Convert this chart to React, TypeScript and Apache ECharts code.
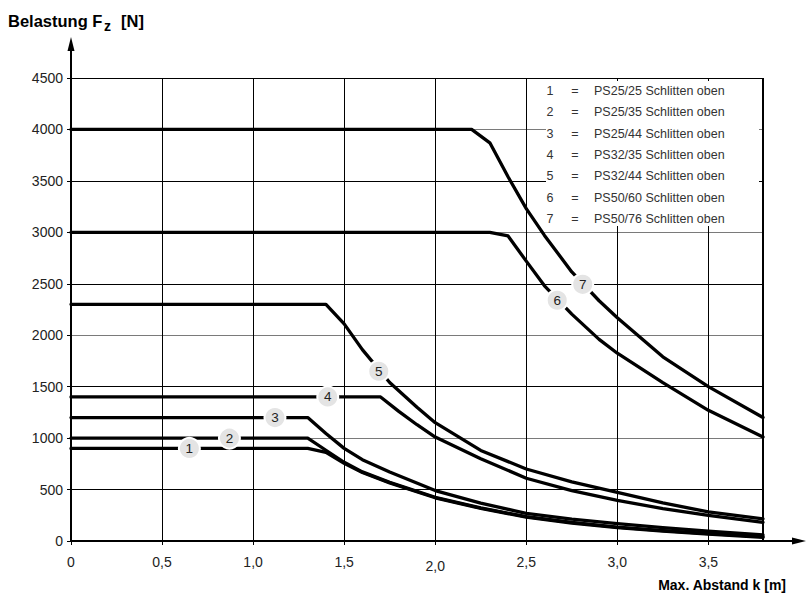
import React, { useEffect, useRef } from "react";
import * as echarts from "echarts";

// ---- data ----
const xTickValues = [0, 0.5, 1, 1.5, 2, 2.5, 3, 3.5];
const yTickInterval = 500;
const yMax = 4500;
const xMax = 3.8;

const curve1 = [[0, 900], [1.3, 900], [1.4, 862], [1.5, 755], [1.6, 665], [1.75, 565], [2.0, 420], [2.25, 318], [2.5, 232], [2.75, 175], [3.0, 130], [3.25, 97], [3.5, 68], [3.8, 36]];
const curve2 = [[0, 1000], [1.3, 1000], [1.4, 882], [1.5, 765], [1.6, 672], [1.75, 570], [2.0, 425], [2.25, 322], [2.5, 236], [2.75, 180], [3.0, 135], [3.25, 100], [3.5, 72], [3.8, 42]];
const curve3 = [[0, 1200], [1.3, 1200], [1.4, 1045], [1.5, 900], [1.6, 790], [1.75, 670], [2.0, 490], [2.25, 368], [2.5, 268], [2.75, 212], [3.0, 168], [3.25, 130], [3.5, 95], [3.8, 60]];
const curve4 = [[0, 1400], [1.7, 1400], [1.8, 1260], [1.9, 1130], [2.0, 1010], [2.25, 800], [2.5, 610], [2.75, 490], [3.0, 395], [3.25, 315], [3.5, 250], [3.8, 182]];
const curve5 = [[0, 2300], [1.4, 2300], [1.5, 2110], [1.6, 1860], [1.75, 1540], [1.9, 1300], [2.0, 1150], [2.25, 880], [2.5, 700], [2.75, 575], [3.0, 472], [3.25, 370], [3.5, 283], [3.8, 215]];
const curve6 = [[0, 3000], [2.3, 3000], [2.4, 2965], [2.5, 2720], [2.6, 2480], [2.75, 2205], [2.9, 1960], [3.0, 1825], [3.25, 1540], [3.5, 1270], [3.8, 1010]];
const curve7 = [[0, 4000], [2.2, 4000], [2.3, 3870], [2.4, 3540], [2.5, 3230], [2.6, 2970], [2.75, 2615], [2.9, 2335], [3.0, 2170], [3.25, 1790], [3.5, 1500], [3.8, 1200]];

const curves = [curve1, curve2, curve3, curve4, curve5, curve6, curve7];
const curveIds = ["1", "2", "3", "4", "5", "6", "7"];
const labelPositions = [[0.65, 900], [0.87, 1000], [1.12, 1200], [1.41, 1400], [1.69, 1650], [2.67, 2340], [2.81, 2495]];
const legendNames = [
  "PS25/25 Schlitten oben",
  "PS25/35 Schlitten oben",
  "PS25/44 Schlitten oben",
  "PS32/35 Schlitten oben",
  "PS32/44 Schlitten oben",
  "PS50/60 Schlitten oben",
  "PS50/76 Schlitten oben",
];
const yTitle = ["Belastung F", "z", "[N]"];
const xTitle = "Max. Abstand k [m]";

const FONT = '"Liberation Sans", Arial, Helvetica, sans-serif';

export default function App() {
  const ref = useRef<HTMLDivElement>(null);

  useEffect(() => {
    if (!ref.current) return;
    const chart = echarts.init(ref.current, undefined, { renderer: "svg" });
    const W = 807, H = 595;
    const gridLeft = 71, gridTop = 78, gridRight = 44, gridBottom = 54;
    const x0 = gridLeft;
    const y0 = H - gridBottom;
    const xEnd = W - gridRight;

    const legendGraphics: any[] = [];
    legendNames.forEach((name, i) => {
      const y = 91 + i * 21.33;
      legendGraphics.push(
        { type: "text", z: 4, x: 550, y, style: { text: curveIds[i], font: `12.5px ${FONT}`, fill: "#333", align: "center", verticalAlign: "middle" } },
        { type: "text", z: 4, x: 575, y, style: { text: "=", font: `12.5px ${FONT}`, fill: "#333", align: "center", verticalAlign: "middle" } },
        { type: "text", z: 4, x: 594, y, style: { text: name, font: `12.5px ${FONT}`, fill: "#333", align: "left", verticalAlign: "middle" } }
      );
    });

    const lineSeries = curves.map((c, i) => ({
      type: "line",
      name: curveIds[i],
      data: c,
      showSymbol: false,
      symbol: "none",
      smooth: false,
      z: 3,
      lineStyle: { color: "#000", width: 3.3, cap: "round", join: "round" },
      ...(i === 0
        ? {
            markLine: {
              silent: true,
              symbol: ["none", "none"],
              label: { show: false },
              lineStyle: { color: "#000", width: 2, type: "solid" },
              data: [{ xAxis: xMax }],
            },
          }
        : {}),
    }));

    const option: any = {
      animation: false,
      backgroundColor: "#fff",
      grid: { left: gridLeft, right: gridRight, top: gridTop, bottom: gridBottom, containLabel: false },
      xAxis: {
        type: "value",
        min: 0,
        max: xMax,
        interval: 0.5,
        axisLine: { show: true, lineStyle: { color: "#000", width: 2 } },
        axisTick: { show: true, length: 4, lineStyle: { color: "#000", width: 1 } },
        axisLabel: {
          show: true,
          margin: 14,
          showMaxLabel: false,
          color: "#222",
          fontSize: 14,
          fontFamily: FONT,
          formatter: (v: number) => {
            if (!xTickValues.some((t) => Math.abs(t - v) < 1e-6)) return "";
            if (v === 0) return "0";
            if (Math.abs(v - 2) < 1e-6) return "{low|2,0}";
            return v.toFixed(1).replace(".", ",");
          },
          rich: { low: { fontSize: 14, fontFamily: FONT, color: "#222", padding: [4, 0, 0, 0] } },
        },
        splitLine: { show: true, lineStyle: { color: "#000", width: 1 } },
      },
      yAxis: {
        type: "value",
        min: 0,
        max: yMax,
        interval: yTickInterval,
        axisLine: { show: true, lineStyle: { color: "#000", width: 2 } },
        axisTick: { show: true, length: 4, lineStyle: { color: "#000", width: 1 } },
        axisLabel: { margin: 8, color: "#222", fontSize: 14, fontFamily: FONT, formatter: (v: number) => String(v) },
        splitLine: { show: true, lineStyle: { color: ["#7a7a7a", "#000"], width: 1 } },
      },
      series: [
        ...lineSeries,
        {
          type: "scatter",
          data: labelPositions,
          symbol: "circle",
          symbolSize: 21,
          z: 6,
          itemStyle: { color: "#e4e4e4", borderColor: "#fff", borderWidth: 2, opacity: 1 },
          label: {
            show: true,
            position: "inside",
            color: "#222",
            fontSize: 13.5,
            fontFamily: FONT,
            formatter: (p: any) => curveIds[p.dataIndex],
          },
        },
      ],
      graphic: [
        // legend background covering grid lines
        { type: "rect", z: 1, shape: { x: 546, y: 81, width: 213, height: 145 }, style: { fill: "#fff" } },
        ...legendGraphics,
        // y-axis arrow
        { type: "line", z: 4, shape: { x1: x0, y1: gridTop, x2: x0, y2: 46 }, style: { stroke: "#000", lineWidth: 2 } },
        { type: "polygon", z: 4, shape: { points: [[x0, 37], [x0 - 3.5, 51], [x0 + 3.5, 51]] }, style: { fill: "#000" } },
        // x-axis arrow
        { type: "line", z: 4, shape: { x1: xEnd, y1: y0, x2: 796, y2: y0 }, style: { stroke: "#000", lineWidth: 2 } },
        { type: "polygon", z: 4, shape: { points: [[806, y0], [792, y0 - 3.5], [792, y0 + 3.5]] }, style: { fill: "#000" } },
        // y title
        { type: "text", z: 4, x: 8, y: 21, style: { text: yTitle[0], font: `bold 16.5px ${FONT}`, fill: "#000", align: "left", verticalAlign: "middle" } },
        { type: "text", z: 4, x: 104, y: 26, style: { text: yTitle[1], font: `bold 14px ${FONT}`, fill: "#000", align: "left", verticalAlign: "middle" } },
        { type: "text", z: 4, x: 121, y: 21, style: { text: yTitle[2], font: `bold 16.5px ${FONT}`, fill: "#000", align: "left", verticalAlign: "middle" } },
        // x title
        { type: "text", z: 4, x: 786, y: 585, style: { text: xTitle, font: `bold 14px ${FONT}`, fill: "#000", align: "right", verticalAlign: "middle" } },
      ],
    };

    chart.setOption(option);
    return () => chart.dispose();
  }, []);

  return (
    <div
      ref={ref}
      style={{ position: "absolute", left: 0, top: 0, width: 807, height: 595, background: "#fff" }}
    />
  );
}
